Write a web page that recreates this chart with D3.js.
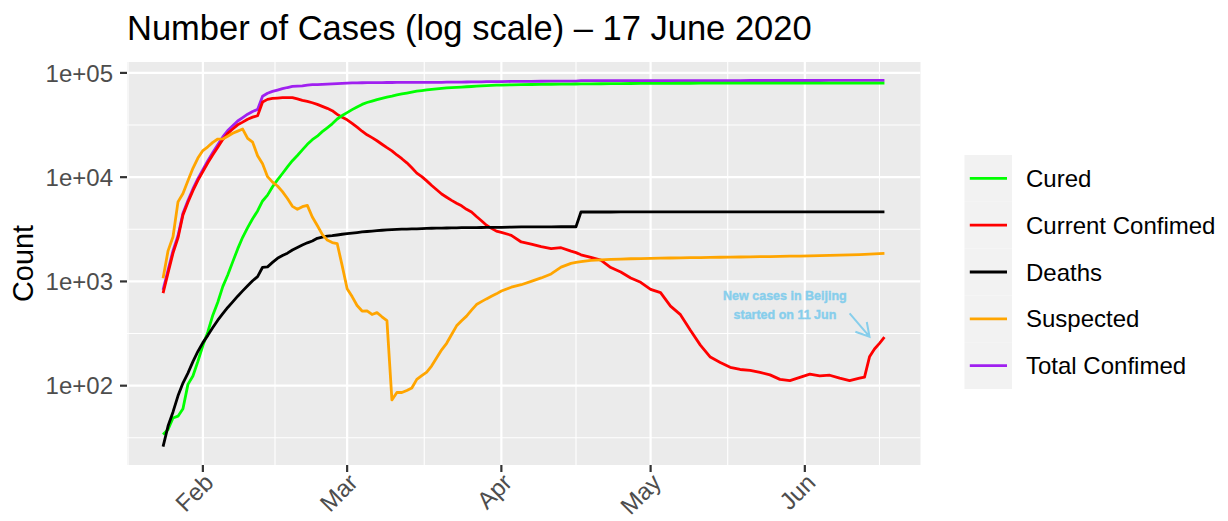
<!DOCTYPE html>
<html><head><meta charset="utf-8">
<script src="https://cdn.jsdelivr.net/npm/d3@7"></script>
<style>
body{margin:0;background:#fff}
svg{display:block;font-family:"Liberation Sans",Arial,Helvetica,sans-serif}
</style>
</head><body>
<svg id="chart" width="1228" height="521"></svg>
<script>
// ---------- data (report dates, 2020) ----------
const dates = [
"01-24","01-25","01-26","01-27","01-28","01-29","01-30","01-31",
"02-01","02-02","02-03","02-04","02-05","02-06","02-07","02-08","02-09","02-10",
"02-11","02-12","02-13","02-14","02-15","02-16","02-17","02-18","02-19","02-20",
"02-21","02-22","02-23","02-24","02-25","02-26","02-27","02-28","02-29",
"03-01","03-02","03-03","03-04","03-05","03-06","03-07","03-08","03-09","03-10",
"03-11","03-12","03-13","03-14","03-15","03-16","03-17","03-18","03-19","03-20",
"03-21","03-22","03-23","03-24","03-25","03-26","03-27","03-28","03-29","03-30","03-31",
"04-01","04-03","04-05","04-07","04-09","04-11","04-13","04-15","04-16","04-17",
"04-19","04-21","04-23","04-25","04-27","04-29",
"05-01","05-03","05-05","05-07","05-09","05-11","05-13","05-15","05-17","05-19",
"05-21","05-23","05-25","05-27","05-29","05-31",
"06-02","06-04","06-06","06-08","06-10","06-12","06-13","06-14","06-15","06-16","06-17"
];

const cured = [
34,38,49,51,60,103,124,171,
243,328,475,632,892,1153,1540,2050,2649,3281,
3996,4740,5911,6723,8096,9419,10844,12552,14376,16155,
18264,20659,22888,24734,27323,29745,32495,36117,39002,
41625,44462,47204,49856,52045,53726,55404,57065,58600,59897,
61475,62793,64111,65541,66911,67749,68679,69601,70420,71150,
71740,72244,72703,73159,73650,74051,74600,75100,75582,75923,76206,
76405,76751,77167,77410,77663,77816,78000,78200,78300,78400,
78550,78700,78850,79000,79150,79280,
79380,79450,79510,79560,79600,79640,79680,79710,79740,79760,
79790,79810,79830,79850,79870,79880,
79900,79910,79920,79930,79940,79950,79955,79960,79965,79970,79975
];

const currentConfirmed = [
771,1208,1870,2613,4349,5739,7417,9308,
11289,13748,16369,19381,22942,26302,28985,31774,33738,35982,
37626,38800,52526,55748,56873,57416,57934,58016,57805,56303,
54577,53388,51712,49936,47794,45730,43391,40054,37552,
35473,32800,30155,27585,25508,23942,22339,20697,19185,17891,
16322,15030,13716,12291,10938,10115,9211,8313,7570,6902,
6421,5993,5628,5312,4919,4628,4191,3821,3464,3226,3038,
2950,2770,2390,2280,2160,2060,2105,1950,1890,1800,
1700,1600,1360,1230,1080,980,
840,780,580,480,340,245,188,167,150,143,
140,134,127,115,112,120,
129,124,126,118,112,118,121,189,225,255,292
];

const deaths = [
26,41,56,80,106,132,170,213,
259,304,361,425,490,563,636,722,811,908,
1016,1113,1367,1380,1523,1665,1770,1868,2004,2118,
2236,2345,2442,2592,2663,2715,2744,2788,2835,
2870,2912,2943,2981,3012,3042,3070,3097,3119,3136,
3158,3169,3176,3189,3199,3213,3226,3237,3245,3248,
3255,3261,3270,3276,3277,3281,3287,3292,3295,3298,3301,
3304,3316,3329,3333,3337,3341,3345,3346,3346,4636,
4636,4636,4636,4637,4637,4637,
4637,4637,4637,4637,4637,4637,4637,4638,4638,4638,
4638,4638,4638,4638,4638,4638,
4638,4638,4638,4638,4638,4638,4638,4638,4638,4638,4638
];

const suspected = [
1072,1965,2684,5794,6973,9239,12167,15238,
17988,19544,21558,23214,23260,24702,26359,27657,28942,23589,
21675,16067,13435,10109,8969,8228,7264,6242,5248,4922,
5206,5365,4148,3434,2824,2491,2358,2308,1418,
851,715,587,520,522,482,502,458,421,73,
86,86,90,95,115,125,135,155,185,221,
255,310,375,420,465,530,600,640,680,720,760,
810,880,930,1000,1080,1180,1370,1490,1520,1545,
1590,1612,1628,1640,1650,1658,
1665,1672,1678,1684,1690,1695,1700,1705,1710,1715,
1720,1726,1732,1738,1745,1752,
1760,1768,1776,1785,1795,1808,1815,1825,1835,1848,1860
];

const totalConfirmed = [
830,1287,1975,2744,4515,5974,7711,9692,
11791,14380,17205,20438,24324,28018,31161,34546,37198,40171,
42638,44653,59804,63851,66492,68500,70548,72436,74185,74576,
75077,76392,77042,77262,77780,78190,78630,78959,79389,
79968,80174,80302,80422,80565,80710,80813,80859,80904,80924,
80955,80992,81003,81021,81048,81077,81116,81151,81235,81300,
81416,81498,81601,81747,81846,81960,82078,82213,82341,82447,82545,
82631,82802,82930,83005,83157,83249,83403,83482,83520,84150,
84237,84287,84311,84338,84347,84373,
84385,84393,84404,84414,84416,84450,84469,84487,84494,84507,
84520,84525,84536,84543,84547,84570,
84597,84608,84634,84652,84660,84671,84729,84778,84822,84866,84903
];

const seriesNames  = ["Cured","Current Confimed","Deaths","Suspected","Total Confimed"];
const seriesColors = ["#00FF00","#FF0000","#000000","#FFA500","#A020F0"];
const drawOrder    = ["Total Confimed","Current Confimed","Cured","Deaths","Suspected"];

const yTickValues = [1e2,1e3,1e4,1e5];
const yTickLabels = ["1e+02","1e+03","1e+04","1e+05"];
const xTickLabels = ["Feb","Mar","Apr","May","Jun"];

const titleText = "Number of Cases (log scale) \u2013 17 June 2020";
const yTitleText = "Count";

const noteLines = ["New cases in Beijing","started on 11 Jun"];
const noteAt = {date:"05-28", value:590};
const arrowFrom = {date:"06-10", value:494};
const arrowTo   = {date:"06-14", value:295};

// ---------- build ----------
const parse = s => new Date("2020-" + s + "T00:00:00Z");
const dateObjs = dates.map(parse);
const valuesByName = {
  "Cured": cured,
  "Current Confimed": currentConfirmed,
  "Deaths": deaths,
  "Suspected": suspected,
  "Total Confimed": totalConfirmed
};
const colorOf = d3.scaleOrdinal().domain(seriesNames).range(seriesColors);

const svg = d3.select("#chart");
const W = 1228, H = 521;
const P = {left:127, right:920.5, top:62, bottom:465};

// x scale with 5% expansion
const xExt = d3.extent(dateObjs);
const span = xExt[1] - xExt[0];
const x = d3.scaleUtc()
  .domain([new Date(+xExt[0] - 0.05*span), new Date(+xExt[1] + 0.05*span)])
  .range([P.left, P.right]);

// y log scale with 5% expansion in log space
const allVals = [].concat(...seriesNames.map(n => valuesByName[n]));
const lmin = Math.log10(d3.min(allVals)), lmax = Math.log10(d3.max(allVals));
const lr = lmax - lmin;
const y = d3.scaleLog()
  .domain([Math.pow(10, lmin - 0.05*lr), Math.pow(10, lmax + 0.05*lr)])
  .range([P.bottom, P.top]);

// panel
svg.append("rect").attr("x",0).attr("y",0).attr("width",W).attr("height",H).attr("fill","#fff");
svg.append("rect").attr("x",P.left).attr("y",P.top)
  .attr("width",P.right-P.left).attr("height",P.bottom-P.top).attr("fill","#EBEBEB");

svg.append("defs").append("clipPath").attr("id","clip")
  .append("rect").attr("x",P.left).attr("y",P.top)
  .attr("width",P.right-P.left).attr("height",P.bottom-P.top);

const grid = svg.append("g").attr("clip-path","url(#clip)");

// minor y grid (half decades)
const yMinor = d3.range(0, yTickValues.length+1).map(i => Math.pow(10, Math.log10(yTickValues[0]) - 0.5 + i));
grid.selectAll(".ymin").data(yMinor).join("line")
  .attr("x1",P.left).attr("x2",P.right)
  .attr("y1",d=>y(d)).attr("y2",d=>y(d))
  .attr("stroke","#fff").attr("stroke-width",1.1);

// x major/minor
const xMajor = d3.utcMonth.range(d3.utcMonth.ceil(x.domain()[0]), x.domain()[1]);
const xMonthsAll = d3.utcMonth.range(d3.utcMonth.floor(x.domain()[0]), d3.utcMonth.offset(d3.utcMonth.ceil(x.domain()[1]),1));
const xMinor = d3.pairs(xMonthsAll).map(([a,b]) => new Date((+a + +b)/2));
grid.selectAll(".xmin").data(xMinor).join("line")
  .attr("x1",d=>Math.max(x(d), P.left+1)).attr("x2",d=>Math.max(x(d), P.left+1))
  .attr("y1",P.top).attr("y2",P.bottom)
  .attr("stroke","#fff").attr("stroke-width",1.1);

grid.selectAll(".ymaj").data(yTickValues).join("line")
  .attr("x1",P.left).attr("x2",P.right)
  .attr("y1",d=>y(d)).attr("y2",d=>y(d))
  .attr("stroke","#fff").attr("stroke-width",2.2);
grid.selectAll(".xmaj").data(xMajor).join("line")
  .attr("x1",d=>x(d)).attr("x2",d=>x(d))
  .attr("y1",P.top).attr("y2",P.bottom)
  .attr("stroke","#fff").attr("stroke-width",2.2);

// lines
const line = d3.line().x((d,i)=>x(dateObjs[i])).y(d=>y(d));
const lines = svg.append("g").attr("clip-path","url(#clip)");
drawOrder.forEach(n => {
  lines.append("path").datum(valuesByName[n])
    .attr("d", line).attr("fill","none")
    .attr("stroke", colorOf(n)).attr("stroke-width",2.8)
    .attr("stroke-linejoin","round");
});

// annotation
const ann = svg.append("g");
const nx = x(parse(noteAt.date)), ny = y(noteAt.value);
ann.selectAll("text").data(noteLines).join("text")
  .attr("x", nx).attr("y", ny)
  .attr("dy", (d,i) => ((i - (noteLines.length-1)/2) * 1.55 + 0.35) + "em")
  .attr("text-anchor","middle")
  .attr("font-size",12.5).attr("font-weight","bold")
  .attr("fill","#87CEEB").attr("stroke","#87CEEB").attr("stroke-width",0.4)
  .text(d=>d);
const ax0 = x(parse(arrowFrom.date)), ay0 = y(arrowFrom.value);
const ax1 = x(parse(arrowTo.date)), ay1 = y(arrowTo.value);
const ang = Math.atan2(ay1-ay0, ax1-ax0), hl = 15, ha = Math.PI/6;
ann.append("path")
  .attr("d", `M${ax0},${ay0}L${ax1},${ay1}M${ax1 - hl*Math.cos(ang-ha)},${ay1 - hl*Math.sin(ang-ha)}L${ax1},${ay1}L${ax1 - hl*Math.cos(ang+ha)},${ay1 - hl*Math.sin(ang+ha)}`)
  .attr("fill","none").attr("stroke","#87CEEB").attr("stroke-width",2)
  .attr("stroke-linecap","butt").attr("stroke-linejoin","miter");

// y axis
const yAx = svg.append("g");
yAx.selectAll("line").data(yTickValues).join("line")
  .attr("x1",P.left-7).attr("x2",P.left)
  .attr("y1",d=>y(d)).attr("y2",d=>y(d))
  .attr("stroke","#333").attr("stroke-width",2.2);
yAx.selectAll("text").data(yTickValues).join("text")
  .attr("x",P.left-14).attr("y",d=>y(d)).attr("dy","0.36em")
  .attr("text-anchor","end").attr("font-size",24).attr("fill","#4D4D4D")
  .text((d,i)=>yTickLabels[i]);

// x axis
const xAx = svg.append("g");
xAx.selectAll("line").data(xMajor).join("line")
  .attr("x1",d=>x(d)).attr("x2",d=>x(d))
  .attr("y1",P.bottom).attr("y2",P.bottom+7)
  .attr("stroke","#333").attr("stroke-width",2.2);
xAx.selectAll("text").data(xMajor).join("text")
  .attr("transform",d=>`translate(${x(d)+12},${P.bottom+19}) rotate(-45)`)
  .attr("text-anchor","end").attr("font-size",24).attr("fill","#4D4D4D")
  .text((d,i)=>xTickLabels[i]);

// titles
svg.append("text").attr("x",P.left).attr("y",40)
  .attr("font-size",34.5).attr("fill","#000").text(titleText);
svg.append("text")
  .attr("transform",`translate(33,${(P.top+P.bottom)/2}) rotate(-90)`)
  .attr("text-anchor","middle").attr("font-size",28.8).attr("fill","#000")
  .text(yTitleText);

// legend
const lg = svg.append("g").attr("transform","translate(964.5,155)");
const keyH = 46.8, keyW = 47.5;
const items = lg.selectAll("g").data(seriesNames).join("g")
  .attr("transform",(d,i)=>`translate(0,${i*keyH})`);
items.append("rect").attr("width",keyW).attr("height",keyH).attr("fill","#F2F2F2");
items.append("line").attr("x1",5.3).attr("x2",42.5)
  .attr("y1",keyH/2).attr("y2",keyH/2)
  .attr("stroke",d=>colorOf(d)).attr("stroke-width",2.8);
items.append("text").attr("x",61.5).attr("y",keyH/2).attr("dy","0.36em")
  .attr("font-size",24).attr("fill","#000").text(d=>d);
</script>
</body></html>
